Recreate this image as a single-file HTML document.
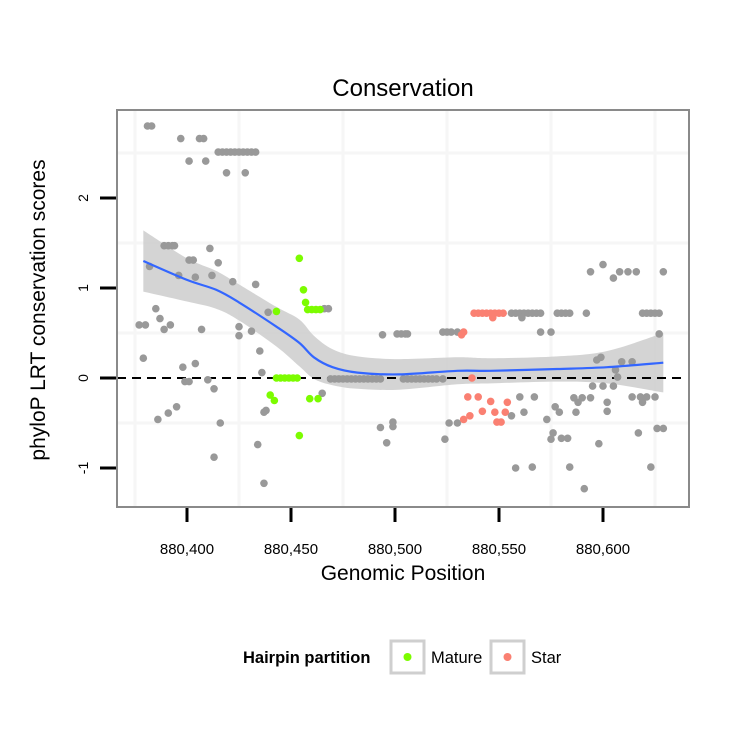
<!DOCTYPE html>
<html><head><meta charset="utf-8"><style>
body{margin:0;background:#fff;}
svg text{font-family:"Liberation Sans",sans-serif;}
</style></head><body>
<svg id="chart" width="750" height="750" viewBox="0 0 750 750" xmlns="http://www.w3.org/2000/svg">
<rect width="750" height="750" fill="#fff"/>
<text x="403" y="96" text-anchor="middle" font-size="24">Conservation</text>
<g id="grid"></g>
<g id="band"></g>
<line x1="117" x2="684" y1="378" y2="378" stroke="#000" stroke-width="2" stroke-dasharray="9,6"/>
<g id="pts"></g>
<g id="fit"></g>
<rect x="117" y="110" width="572" height="397" fill="none" stroke="#8a8a8a" stroke-width="2"/>
<g id="axes"></g>
<text x="403" y="580" text-anchor="middle" font-size="21">Genomic Position</text>
<text transform="translate(45,310) rotate(-90)" text-anchor="middle" font-size="21">phyloP LRT conservation scores</text>
<g>
<text x="243" y="663" font-size="16.5" font-weight="bold">Hairpin partition</text>
<rect x="391" y="641" width="33" height="32" fill="#fff" stroke="#cfcfcf" stroke-width="3"/>
<circle cx="407.5" cy="657" r="4" fill="#7cfc00"/>
<text x="431" y="663" font-size="16.5">Mature</text>
<rect x="491" y="641" width="33" height="32" fill="#fff" stroke="#cfcfcf" stroke-width="3"/>
<circle cx="507.5" cy="657" r="4" fill="#fa8072"/>
<text x="531" y="663" font-size="16.5">Star</text>
</g>
</svg>
<script>
const xTicks=[880400,880450,880500,880550,880600];
const xTickLabels=["880,400","880,450","880,500","880,550","880,600"];
const yTicks=[2,1,0,-1];
const yTickLabels=["2","1","0","-1"];
const grayX=[880381,880383,880397,880406,880408,880401,880409,880415,880417,880419,880421,880423,880425,880427,880429,880431,880433,880419,880428,880389,880391,880393,880394,880411,880401,880403,880382,880415,880396,880404,880412,880422,880433,880439,880385,880387,880377,880380,880389,880392,880407,880425,880425,880431,880435,880379,880398,880404,880436,880399,880401,880410,880413,880395,880391,880386,880416,880438,880437,880434,880413,880437,880466,880468,880494,880501,880503,880505,880506,880523,880525,880527,880530,880469,880471,880473,880475,880477,880479,880481,880483,880485,880487,880489,880491,880493,880504,880506,880508,880510,880512,880514,880516,880518,880520,880523,880465,880493,880499,880499,880496,880526,880530,880524,880556,880558,880560,880562,880564,880566,880568,880570,880578,880580,880582,880584,880592,880619,880621,880623,880625,880627,880561,880570,880575,880600,880594,880608,880612,880616,880629,880605,880627,880597,880599,880606,880609,880614,880607,880595,880600,880605,880560,880567,880614,880618,880621,880625,880619,880577,880579,880586,880590,880594,880588,880587,880602,880602,880562,880556,880573,880576,880575,880580,880583,880598,880617,880626,880629,880558,880566,880584,880623,880591];
const grayY=[2.8,2.8,2.66,2.66,2.66,2.41,2.41,2.51,2.51,2.51,2.51,2.51,2.51,2.51,2.51,2.51,2.51,2.28,2.28,1.47,1.47,1.47,1.47,1.44,1.31,1.31,1.24,1.28,1.14,1.12,1.14,1.07,1.04,0.73,0.77,0.66,0.59,0.59,0.54,0.59,0.54,0.57,0.47,0.52,0.3,0.22,0.12,0.16,0.06,-0.04,-0.04,-0.02,-0.12,-0.32,-0.39,-0.46,-0.5,-0.36,-0.38,-0.74,-0.88,-1.17,0.77,0.77,0.48,0.49,0.49,0.49,0.49,0.51,0.51,0.51,0.51,-0.01,-0.01,-0.01,-0.01,-0.01,-0.01,-0.01,-0.01,-0.01,-0.01,-0.01,-0.01,-0.01,-0.01,-0.01,-0.01,-0.01,-0.01,-0.01,-0.01,-0.01,-0.01,-0.01,-0.17,-0.55,-0.54,-0.49,-0.72,-0.5,-0.5,-0.68,0.72,0.72,0.72,0.72,0.72,0.72,0.72,0.72,0.72,0.72,0.72,0.72,0.72,0.72,0.72,0.72,0.72,0.72,0.67,0.51,0.51,1.26,1.18,1.18,1.18,1.18,1.18,1.11,0.49,0.2,0.23,0.09,0.18,0.18,0.01,-0.09,-0.09,-0.09,-0.21,-0.21,-0.21,-0.21,-0.21,-0.21,-0.27,-0.32,-0.38,-0.22,-0.22,-0.22,-0.27,-0.38,-0.27,-0.37,-0.38,-0.42,-0.46,-0.61,-0.68,-0.67,-0.67,-0.73,-0.61,-0.56,-0.56,-1.0,-0.99,-0.99,-0.99,-1.23];
const matureX=[880454,880443,880456,880457,880458,880460,880462,880464,880443,880445,880447,880449,880451,880453,880440,880442,880459,880463,880454];
const matureY=[1.33,0.74,0.98,0.84,0.76,0.76,0.76,0.76,0,0,0,0,0,0,-0.19,-0.25,-0.23,-0.23,-0.64];
const starX=[880533,880532,880538,880540,880542,880544,880546,880548,880550,880552,880547,880537,880535,880540,880546,880542,880548,880533,880536,880549,880554,880553,880551];
const starY=[0.51,0.48,0.72,0.72,0.72,0.72,0.72,0.72,0.72,0.72,0.67,0,-0.21,-0.21,-0.26,-0.37,-0.38,-0.46,-0.42,-0.49,-0.27,-0.38,-0.49];
const fitX=[880379,880400,880414,880425,880443,880454,880461,880470,880482,880502,880530,880546,880578,880602,880629];
const fitY=[1.30,1.09,0.98,0.84,0.57,0.39,0.23,0.12,0.06,0.04,0.08,0.08,0.10,0.12,0.17];
const fitSE=[0.34,0.24,0.21,0.2,0.22,0.26,0.24,0.2,0.18,0.17,0.15,0.14,0.14,0.18,0.33];
const NS="http://www.w3.org/2000/svg";
function xs(v){return 187+(v-880400)*2.08;}
function ys(v){return 378-v*90;}
function mk(tag,attrs,parent){const e=document.createElementNS(NS,tag);for(const k in attrs)e.setAttribute(k,attrs[k]);document.getElementById(parent).appendChild(e);return e;}
function smooth(P){let d='M'+P[0][0]+','+P[0][1];for(let i=0;i<P.length-1;i++){const p0=P[Math.max(0,i-1)],p1=P[i],p2=P[i+1],p3=P[Math.min(P.length-1,i+2)];
d+=' C'+(p1[0]+(p2[0]-p0[0])/6)+','+(p1[1]+(p2[1]-p0[1])/6)+' '+(p2[0]-(p3[0]-p1[0])/6)+','+(p2[1]-(p3[1]-p1[1])/6)+' '+p2[0]+','+p2[1];}return d;}
[880375,880425,880475,880525,880575,880625].forEach(v=>{
const l=mk('line',{x1:xs(v),x2:xs(v),y1:111,y2:506,stroke:'#f6f6f6','stroke-width':3},'grid');

});
[2.5,1.5,0.5,-0.5].forEach(v=>{
const l=mk('line',{x1:118,x2:688,y1:ys(v),y2:ys(v),stroke:'#f6f6f6','stroke-width':3},'grid');

});
const upP=fitX.map((x,i)=>[xs(x),ys(fitY[i]+fitSE[i])]);
const loP=fitX.map((x,i)=>[xs(x),ys(fitY[i]-fitSE[i])]).reverse();
const bandD=smooth(upP)+' L'+loP[0][0]+','+loP[0][1]+' '+smooth(loP).slice(1).replace(/^[^C]*/,'')+' Z';
const band=mk('path',{d:bandD,fill:'#cccccc','fill-opacity':0.85},'band');


function drawPts(X,Y,col,name){X.forEach((x,i)=>{
const c=mk('circle',{cx:xs(x),cy:ys(Y[i]),r:3.8,fill:col},'pts');

});}
drawPts(grayX,grayY,'#999999','point-unpartitioned');
drawPts(matureX,matureY,'#7cfc00','point-mature');
drawPts(starX,starY,'#fa8072','point-star');
const fl=mk('path',{d:smooth(fitX.map((x,i)=>[xs(x),ys(fitY[i])])),fill:'none',stroke:'#3366ff','stroke-width':2.2},'fit');


xTicks.forEach((v,i)=>{
const t=mk('line',{x1:xs(v),x2:xs(v),y1:508,y2:522,stroke:'#000','stroke-width':3},'axes');


const l=mk('text',{x:xs(v),y:554,'text-anchor':'middle','font-size':15},'axes');
l.textContent=xTickLabels[i];

});
yTicks.forEach((v,i)=>{
const t=mk('line',{x1:100,x2:116,y1:ys(v),y2:ys(v),stroke:'#000','stroke-width':3},'axes');


const l=mk('text',{transform:'translate(88,'+ys(v)+') rotate(-90)','text-anchor':'middle','font-size':14},'axes');
l.textContent=yTickLabels[i];

});
</script>
</body></html>
